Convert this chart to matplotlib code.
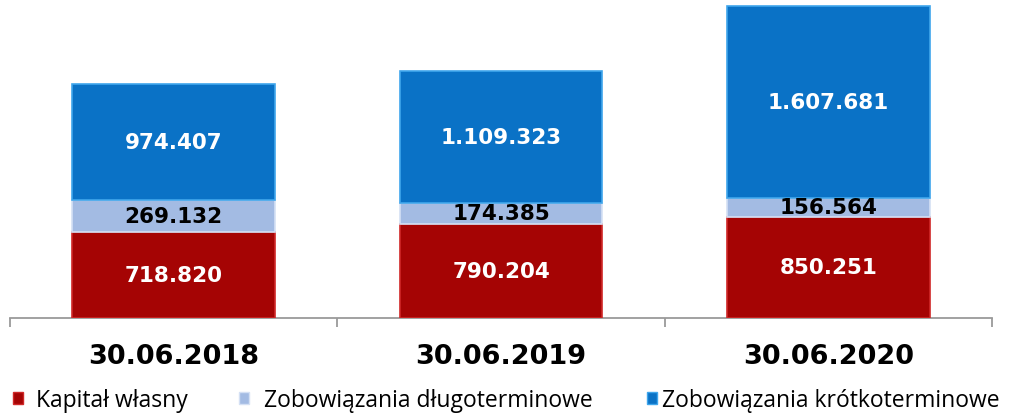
import matplotlib
matplotlib.use("Agg")
import matplotlib.pyplot as plt
from matplotlib.patches import Patch
import numpy as np

categories = ["30.06.2018", "30.06.2019", "30.06.2020"]
kapital = [718820, 790204, 850251]
dlugo = [269132, 174385, 156564]
krotko = [974407, 1109323, 1607681]
labels_kapital = ["718.820", "790.204", "850.251"]
labels_dlugo = ["269.132", "174.385", "156.564"]
labels_krotko = ["974.407", "1.109.323", "1.607.681"]
series_names = ["Kapitał własny", "Zobowiązania długoterminowe", "Zobowiązania krótkoterminowe"]

c_red = "#A50404"
c_light = "#A3BBE3"
c_blue = "#0A72C6"

W, H = 1013, 414
fig = plt.figure(figsize=(W / 100, H / 100), dpi=100)
ax = fig.add_axes([10 / W, (H - 319) / H, 982 / W, 319 / H])

x = np.arange(len(categories))
bw = 0.62
b1 = ax.bar(x, kapital, bw, color=c_red, edgecolor="#D02828", linewidth=1.2, zorder=3)
b2 = ax.bar(x, dlugo, bw, bottom=kapital, color=c_light, edgecolor="#D4E0F4", linewidth=1.2, zorder=3)
bottom3 = np.array(kapital) + np.array(dlugo)
b3 = ax.bar(x, krotko, bw, bottom=bottom3, color=c_blue, edgecolor="#3FA6EC", linewidth=1.2, zorder=3)

lab_kw = dict(label_type="center", fontsize=15.5, fontweight="bold", family="DejaVu Sans", zorder=5)
ax.bar_label(b1, labels=labels_kapital, color="white", **lab_kw)
ax.bar_label(b2, labels=labels_dlugo, color="black", **lab_kw)
ax.bar_label(b3, labels=labels_krotko, color="white", **lab_kw)

ax.set_xlim(-0.5, 2.5)
ax.set_ylim(0, 2673160)
for s in ["top", "right", "left"]:
    ax.spines[s].set_visible(False)
ax.spines["bottom"].set_color("#9A9A9A")
ax.spines["bottom"].set_linewidth(1.3)
ax.set_yticks([])
ax.set_xticks(x)
ax.set_xticklabels(categories, fontsize=19.5, fontweight="bold", family="DejaVu Sans")
ax.tick_params(axis="x", which="major", length=0, pad=18)
ax.set_xticks([-0.5, 0.5, 1.5, 2.5], minor=True)
ax.tick_params(axis="x", which="minor", length=6.5, width=1.3, color="#9A9A9A", direction="out")

colors = [c_red, c_light, c_blue]
edges = ["#D02828", "#D4E0F4", "#3FA6EC"]
xs = [13 / W, 239 / W, 647 / W]
gaps = [0.55, 0.65, 0.22]
for name, col, ed, xp, gp in zip(series_names, colors, edges, xs, gaps):
    h = Patch(facecolor=col, edgecolor=ed, linewidth=1)
    fig.legend(handles=[h], labels=[name], loc="center left", bbox_to_anchor=(xp, 13 / H),
               frameon=False, prop={"family": "Open Sans", "size": 16.5},
               handlelength=0.45, handleheight=0.45, handletextpad=gp,
               borderpad=0, borderaxespad=0)

fig.savefig("out.png", dpi=100)
